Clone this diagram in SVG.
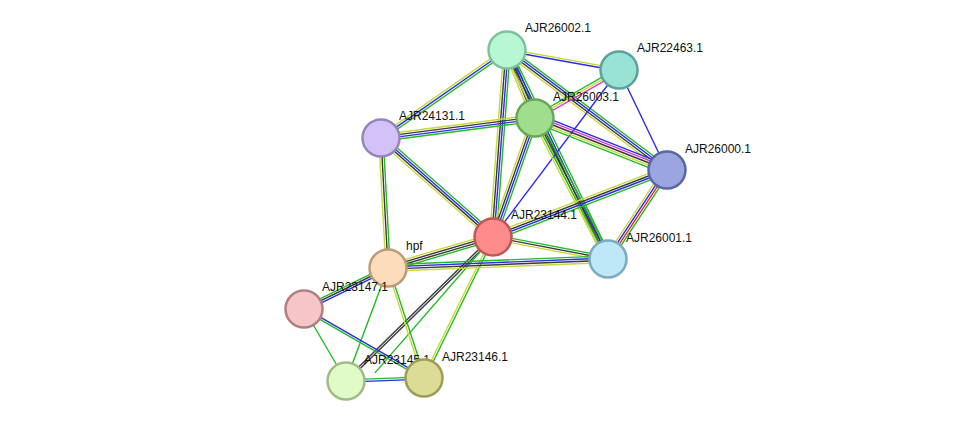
<svg xmlns="http://www.w3.org/2000/svg" width="975" height="427" viewBox="0 0 975 427">
<style>
line{stroke-width:1.4;fill:none}
.g{stroke:#22bb22}.b{stroke:#2a2aee}.k{stroke:#3a3a3a}.y{stroke:#c6d93a}.m{stroke:#d63bd6}.r{stroke:#ee2a2a}
circle{stroke-width:2.5}
text{font-family:"Liberation Sans",Arial,sans-serif;font-size:12px;fill:#111}
</style>
<rect width="975" height="427" fill="#fff"/>
<g id="edges">
<g transform="translate(507,50) rotate(10.1)"><line x2="113.8" y1="-1.1" y2="-1.1" class="y"/><line x2="113.8" y1="1.1" y2="1.1" class="b"/></g>
<g transform="translate(507,50) rotate(67.6)"><line x2="73.5" y1="-3.3" y2="-3.3" class="g"/><line x2="73.5" y1="-1.1" y2="-1.1" class="b"/><line x2="73.5" y1="1.1" y2="1.1" class="k"/><line x2="73.5" y1="3.3" y2="3.3" class="y"/></g>
<g transform="translate(507,50) rotate(145.1)"><line x2="153.7" y1="-2.2" y2="-2.2" class="g"/><line x2="153.7" y1="0" y2="0" class="b"/><line x2="153.7" y1="2.2" y2="2.2" class="y"/></g>
<g transform="translate(507,50) rotate(36.9)"><line x2="200" y1="-3.3" y2="-3.3" class="g"/><line x2="200" y1="-1.1" y2="-1.1" class="b"/><line x2="200" y1="1.1" y2="1.1" class="k"/><line x2="200" y1="3.3" y2="3.3" class="y"/></g>
<g transform="translate(507,50) rotate(94.3)"><line x2="187.5" y1="-3.3" y2="-3.3" class="g"/><line x2="187.5" y1="-1.1" y2="-1.1" class="b"/><line x2="187.5" y1="1.1" y2="1.1" class="k"/><line x2="187.5" y1="3.3" y2="3.3" class="y"/></g>
<g transform="translate(507,50) rotate(64.2)"><line x2="232.1" y1="-3.3" y2="-3.3" class="g"/><line x2="232.1" y1="-1.1" y2="-1.1" class="b"/><line x2="232.1" y1="1.1" y2="1.1" class="k"/><line x2="232.1" y1="3.3" y2="3.3" class="y"/></g>
<g transform="translate(619,70) rotate(150.3)"><line x2="96.7" y1="-2.2" y2="-2.2" class="m"/><line x2="96.7" y1="0" y2="0" class="y"/><line x2="96.7" y1="2.2" y2="2.2" class="g"/></g>
<g transform="translate(619,70) rotate(64.4)"><line x2="110.9" class="b"/></g>
<g transform="translate(619,70) rotate(127)"><line x2="209.2" class="b"/></g>
<g transform="translate(535,118) rotate(172.6)"><line x2="155.3" y1="-3.3" y2="-3.3" class="g"/><line x2="155.3" y1="-1.1" y2="-1.1" class="b"/><line x2="155.3" y1="1.1" y2="1.1" class="k"/><line x2="155.3" y1="3.3" y2="3.3" class="y"/></g>
<g transform="translate(535,118) rotate(21.5)"><line x2="141.9" y1="-4.4" y2="-4.4" class="b"/><line x2="141.9" y1="-2.2" y2="-2.2" class="m"/><line x2="141.9" y1="0" y2="0" class="k"/><line x2="141.9" y1="2.2" y2="2.2" class="y"/><line x2="141.9" y1="4.4" y2="4.4" class="g"/></g>
<g transform="translate(535,118) rotate(109.4)"><line x2="126.2" y1="-3.3" y2="-3.3" class="g"/><line x2="126.2" y1="-1.1" y2="-1.1" class="b"/><line x2="126.2" y1="1.1" y2="1.1" class="k"/><line x2="126.2" y1="3.3" y2="3.3" class="y"/></g>
<g transform="translate(535,118) rotate(62.6)"><line x2="158.8" y1="-3.3" y2="-3.3" class="g"/><line x2="158.8" y1="-1.1" y2="-1.1" class="k"/><line x2="158.8" y1="1.1" y2="1.1" class="g"/><line x2="158.8" y1="3.3" y2="3.3" class="y"/></g>
<g transform="translate(381,138) rotate(41.5)"><line x2="149.5" y1="-3.3" y2="-3.3" class="g"/><line x2="149.5" y1="-1.1" y2="-1.1" class="b"/><line x2="149.5" y1="1.1" y2="1.1" class="k"/><line x2="149.5" y1="3.3" y2="3.3" class="y"/></g>
<g transform="translate(381,138) rotate(86.9)"><line x2="130.2" y1="-2.2" y2="-2.2" class="g"/><line x2="130.2" y1="0" y2="0" class="k"/><line x2="130.2" y1="2.2" y2="2.2" class="y"/></g>
<g transform="translate(667,170) rotate(158.9)"><line x2="186.5" y1="-3.3" y2="-3.3" class="g"/><line x2="186.5" y1="-1.1" y2="-1.1" class="b"/><line x2="186.5" y1="1.1" y2="1.1" class="k"/><line x2="186.5" y1="3.3" y2="3.3" class="y"/></g>
<g transform="translate(667,170) rotate(123.5)"><line x2="106.8" y1="-3.3" y2="-3.3" class="g"/><line x2="106.8" y1="-1.1" y2="-1.1" class="r"/><line x2="106.8" y1="1.1" y2="1.1" class="b"/><line x2="106.8" y1="3.3" y2="3.3" class="y"/></g>
<g transform="translate(493,237) rotate(10.8)"><line x2="117.1" y1="-2.2" y2="-2.2" class="g"/><line x2="117.1" y1="0" y2="0" class="k"/><line x2="117.1" y1="2.2" y2="2.2" class="y"/></g>
<g transform="translate(493,237) rotate(163.6)"><line x2="109.5" y1="-3.3" y2="-3.3" class="g"/><line x2="109.5" y1="-1.1" y2="-1.1" class="k"/><line x2="109.5" y1="1.1" y2="1.1" class="k"/><line x2="109.5" y1="3.3" y2="3.3" class="y"/></g>
<g transform="translate(493,237) rotate(135.6)"><line x2="205.8" y1="-1.1" y2="-1.1" class="k"/><line x2="205.8" y1="1.1" y2="1.1" class="k"/></g>
<g transform="translate(493,237) rotate(116.1)"><line x2="157" y1="-1.1" y2="-1.1" class="g"/><line x2="157" y1="1.1" y2="1.1" class="y"/></g>
<g transform="translate(493,237) rotate(131)"><line x2="180" class="g"/></g>
<g transform="translate(388,268) rotate(-2.3)"><line x2="220.2" y1="-3.3" y2="-3.3" class="g"/><line x2="220.2" y1="-1.1" y2="-1.1" class="b"/><line x2="220.2" y1="1.1" y2="1.1" class="k"/><line x2="220.2" y1="3.3" y2="3.3" class="y"/></g>
<g transform="translate(388,268) rotate(154)"><line x2="93.5" y1="-2.2" y2="-2.2" class="b"/><line x2="93.5" y1="0" y2="0" class="k"/><line x2="93.5" y1="2.2" y2="2.2" class="g"/></g>
<g transform="translate(388,268) rotate(110.4)"><line x2="120.6" class="g"/></g>
<g transform="translate(388,268) rotate(71.9)"><line x2="115.7" y1="-1.1" y2="-1.1" class="g"/><line x2="115.7" y1="1.1" y2="1.1" class="y"/></g>
<g transform="translate(304,309) rotate(59.7)"><line x2="83.4" class="g"/></g>
<g transform="translate(304,309) rotate(29.9)"><line x2="138.4" y1="-1.1" y2="-1.1" class="b"/><line x2="138.4" y1="1.1" y2="1.1" class="g"/></g>
<g transform="translate(346,381) rotate(-2.2)"><line x2="78.1" y1="-1.1" y2="-1.1" class="g"/><line x2="78.1" y1="1.1" y2="1.1" class="b"/></g>
</g>
<g id="n26002"><circle cx="507" cy="50" r="18.5" fill="#b8f7d4" stroke="#7cc39a"/><text x="525" y="32">AJR26002.1</text></g>
<g id="n22463"><circle cx="619" cy="70" r="18.5" fill="#98e2d6" stroke="#5ba39a"/><text x="637" y="52">AJR22463.1</text></g>
<g id="n26003"><circle cx="535" cy="118" r="18.5" fill="#a0de8e" stroke="#66a856"/><text x="553" y="101">AJR26003.1</text></g>
<g id="n24131"><circle cx="381" cy="138" r="18.5" fill="#d3c1f7" stroke="#9485bb"/><text x="399" y="120">AJR24131.1</text></g>
<g id="n26000"><circle cx="667" cy="170" r="18.5" fill="#9ba6e0" stroke="#5866a2"/><text x="685" y="153">AJR26000.1</text></g>
<g id="n23144"><circle cx="493" cy="237" r="18.5" fill="#ff8c8c" stroke="#c05555"/><text x="511" y="219">AJR23144.1</text></g>
<g id="n26001"><circle cx="608" cy="259" r="18.5" fill="#bee7f8" stroke="#7aabc3"/><text x="626" y="242">AJR26001.1</text></g>
<g id="nhpf"><circle cx="388" cy="268" r="18.5" fill="#fddcbc" stroke="#bd9c7a"/><text x="406" y="250">hpf</text></g>
<g id="n23147"><circle cx="304" cy="309" r="18.5" fill="#f6c6c6" stroke="#b07f7f"/><text x="322" y="291">AJR23147.1</text></g>
<g id="n23145"><circle cx="346" cy="381" r="18.5" fill="#e0fbc8" stroke="#9fbb88"/><text x="364" y="364">AJR23145.1</text></g>
<g id="n23146"><circle cx="424" cy="378" r="18.5" fill="#dcdc96" stroke="#9c9c58"/><text x="442" y="361">AJR23146.1</text></g>
</svg>
